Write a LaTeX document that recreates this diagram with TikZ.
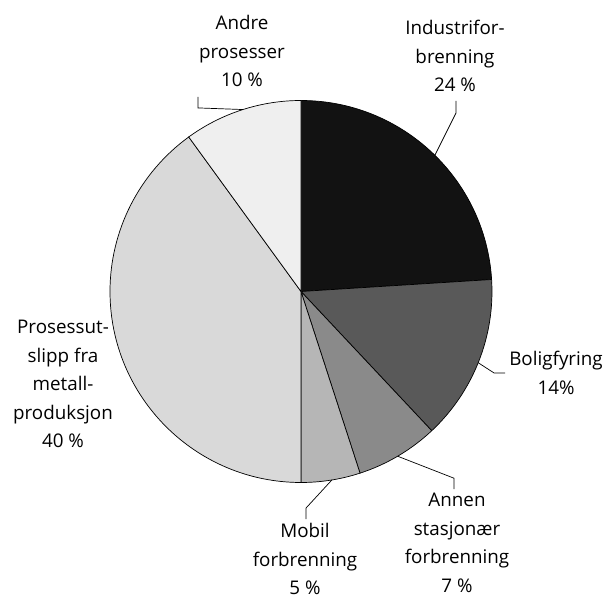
\documentclass[tikz,border=0pt]{standalone}
\usepackage{fontspec}
\setmainfont{Open Sans}
\usetikzlibrary{calc}
\definecolor{slindustri}{HTML}{121212}
\definecolor{slbolig}{HTML}{595959}
\definecolor{slannen}{HTML}{8A8A8A}
\definecolor{slmobil}{HTML}{B6B6B6}
\definecolor{slprosess}{HTML}{D9D9D9}
\definecolor{slandre}{HTML}{EFEFEF}
\begin{document}
\begin{tikzpicture}[x=1pt, y=1pt, every node/.style={align=center, inner sep=4pt, font=\fontsize{18.8}{28.5}\selectfont}, leader/.style={draw=black, line width=0.7pt}]
    \useasboundingbox (0,0) rectangle (605,599);
    \def\rad{191}
    \coordinate (c) at (301,307.5);
    % slices, clockwise from the top
    \foreach \a/\b/\col in {90/3.6/slindustri, 3.6/-46.8/slbolig, -46.8/-72/slannen, -72/-90/slmobil, -90/-234/slprosess, 126/90/slandre}
        \filldraw[fill=\col, draw=black, line width=0.7pt] (c) -- ($(c)+(\a:\rad)$) arc[start angle=\a, end angle=\b, radius=\rad] -- cycle;
    % points on the rim for the leaders
    \coordinate (e-andre) at ($(c)+(107.7:\rad)$);
    \coordinate (e-industri) at ($(c)+(45.5:\rad)$);
    \coordinate (e-bolig) at ($(c)+(-21.9:\rad)$);
    \coordinate (e-annen) at ($(c)+(-59.6:\rad)$);
    \coordinate (e-mobil) at ($(c)+(-80.7:\rad)$);
    % labels
    \node (andre) at (242,548) {Andre\\prosesser\\10 \%};
    \node (industri) at (455,543) {Industrifor-\\brenning\\24 \%};
    \node (bolig) at (556,226) {Boligfyring\\14\%};
    \node (annen) at (457,56) {Annen\\stasjonær\\forbrenning\\7 \%};
    \node (mobil) at (305,40) {Mobil\\forbrenning\\5 \%};
    \node (prosess) at (63,215) {Prosessut-\\slipp fra\\metall-\\produksjon\\40 \%};
    % leaders
    \draw[leader] ([xshift=-44pt, yshift=-6pt]andre.south) -- ++(0,-11) -- (e-andre);
    \draw[leader] ([xshift=1pt, yshift=-5pt]industri.south) -- ++(0,-12) -- (e-industri);
    \draw[leader] (bolig.west) -- ++(-11,0) -- (e-bolig);
    \draw[leader] ([xshift=-3pt]annen.north) -- ++(0,11) -- (e-annen);
    \draw[leader] ([xshift=1pt]mobil.north) -- ++(0,11) -- (e-mobil);
\end{tikzpicture}
\end{document}
